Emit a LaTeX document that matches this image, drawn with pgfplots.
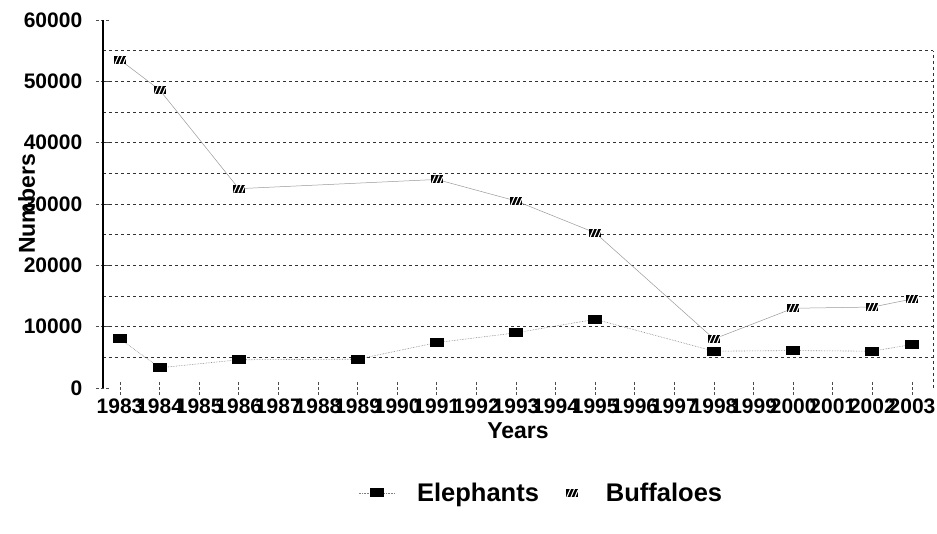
\documentclass[border=0pt]{standalone}
\usepackage{fontspec}
\setmainfont{Liberation Sans}
\usepackage{pgfplots}
\pgfplotsset{compat=1.18}
\usepackage{pgfplotstable}

% solid black block for elephants
\pgfdeclareplotmark{elebox}{%
  \pgfsetcornersarced{\pgfpoint{1.2pt}{1.2pt}}%
  \pgfpathrectangle{\pgfpoint{-7pt}{-4.5pt}}{\pgfpoint{14pt}{9pt}}%
  \pgfusepathqfill}
% hatched block for buffaloes
\pgfdeclareplotmark{hatchbox}{%
  \pgfpathrectangle{\pgfpoint{-6pt}{-4pt}}{\pgfpoint{12pt}{8pt}}%
  \pgfusepathqfill
  \pgfsetstrokecolor{white}\pgfsetlinewidth{1.1pt}%
  \pgfpathmoveto{\pgfpoint{-5pt}{-4pt}}\pgfpathlineto{\pgfpoint{-1.5pt}{4pt}}%
  \pgfpathmoveto{\pgfpoint{-1pt}{-4pt}}\pgfpathlineto{\pgfpoint{2.5pt}{4pt}}%
  \pgfpathmoveto{\pgfpoint{3pt}{-4pt}}\pgfpathlineto{\pgfpoint{6pt}{2.8pt}}%
  \pgfusepathqstroke}

% year index (0 = 1983) and counts
\pgfplotstableread{
x y
0 8000
1 3300
3 4600
6 4700
8 7400
10 9000
12 11200
15 6000
17 6100
19 6000
20 7100
}\elephants

\pgfplotstableread{
x y
0 53500
1 48600
3 32500
8 34000
10 30500
12 25300
15 8000
17 13000
19 13200
20 14500
}\buffaloes

\begin{document}
\begin{tikzpicture}
\useasboundingbox (0,0) rectangle (937pt,534pt);
\begin{axis}[
  at={(103pt,146pt)}, anchor=south west,
  scale only axis, width=830pt, height=368pt,
  xmin=-0.43, xmax=20.53, ymin=0, ymax=60000,
  clip=false,
  scaled y ticks=false,
  axis line style={draw=none},
  xtick={0,...,20},
  xticklabels={1983,1984,1985,1986,1987,1988,1989,1990,1991,1992,1993,1994,1995,1996,1997,1998,1999,2000,2001,2002,2003},
  ytick={0,10000,...,60000},
  yticklabels={},
  extra y ticks={5000,10000,...,55000},
  extra y tick labels={},
  extra y tick style={grid=major, major tick length=0pt},
  major grid style={black!80, line width=0.9pt, dash pattern=on 3pt off 3pt},
  xtick pos=bottom, ytick pos=left,
  tick align=center, major tick length=14pt,
  tick style={black!70, line width=0.8pt, dash pattern=on 3pt off 2pt},
  ticklabel style={font=\fontsize{21}{25}\selectfont\bfseries},
  xlabel={Years}, ylabel={Numbers},
  label style={font=\fontsize{23}{28}\selectfont\bfseries},
  xlabel style={at={(rel axis cs:0.5,-0.117)}, anchor=center},
  ylabel style={at={(rel axis cs:-0.092,0.5)}, anchor=center},
  legend style={at={(rel axis cs:0.304,-0.285)}, anchor=west, draw=none,
    font=\fontsize{25.5}{30}\selectfont\bfseries, legend columns=2,
    /tikz/every odd column/.append style={column sep=20pt},
    /tikz/every even column/.append style={column sep=7pt}},
  legend image code/.code={%
    \draw[mark repeat=2,mark phase=2,#1] plot coordinates {(0pt,0pt)(18pt,0pt)(36pt,0pt)};},
]
\addplot[black!50, line width=0.6pt, densely dotted, mark=elebox, mark options={solid, fill=black}]
  table[x=x, y=y] {\elephants};
\addlegendentry{Elephants}
\addplot[black!40, line width=0.5pt, mark=hatchbox, mark options={solid, fill=black},
  legend image code/.code={\path[draw=none] (0pt,0pt) -- (36pt,0pt);
    \path[draw=none] plot[mark=hatchbox, mark options={fill=black}] coordinates {(24pt,0pt)};}]
  table[x=x, y=y] {\buffaloes};
\addlegendentry{Buffaloes}
% value labels of the y axis, set well clear of the axis line
\pgfplotsinvokeforeach{0,10000,20000,30000,40000,50000,60000}{
  \node[anchor=east, inner sep=0pt, font=\fontsize{21}{25}\selectfont\bfseries]
    at (axis cs:-0.95,#1) {#1};
}
% left axis and dotted right border of the plot area
\draw[black, line width=1.2pt] (rel axis cs:0,0) -- (rel axis cs:0,1);
\draw[black!80, line width=0.9pt, dash pattern=on 3pt off 3pt] (rel axis cs:1,0) -- (rel axis cs:1,0.9167);
\end{axis}
\end{tikzpicture}
\end{document}
